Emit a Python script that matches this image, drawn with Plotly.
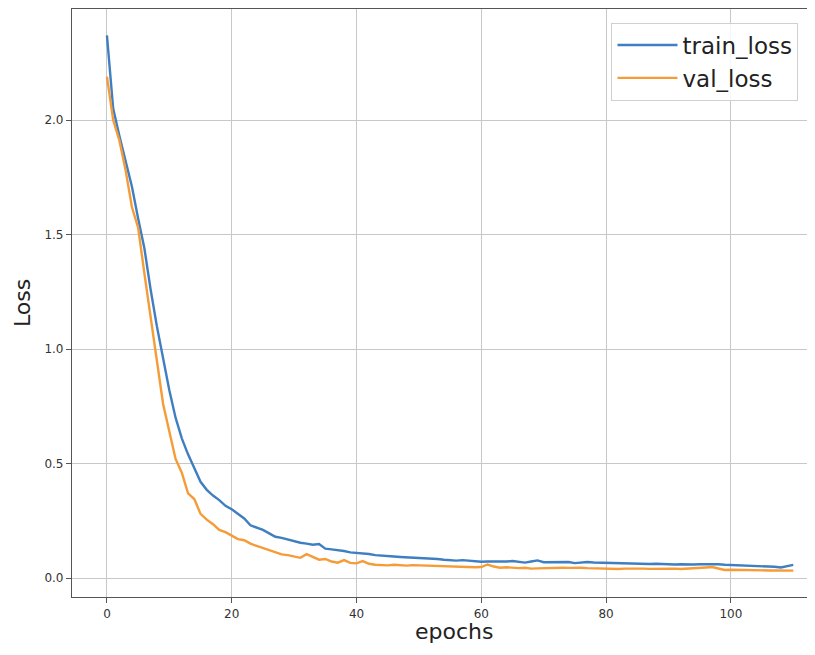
import plotly.graph_objects as go

epochs = list(range(111))

train_loss = [
    2.37, 2.05, 1.93, 1.82, 1.71, 1.57, 1.44, 1.26, 1.10, 0.96,
    0.82, 0.70, 0.61, 0.54, 0.48, 0.42, 0.385, 0.36, 0.34, 0.315,
    0.30, 0.28, 0.26, 0.23, 0.22, 0.21, 0.195, 0.18, 0.175, 0.168,
    0.16, 0.154, 0.15, 0.145, 0.148, 0.128, 0.125, 0.122, 0.118, 0.112,
    0.11, 0.108, 0.105, 0.10, 0.097, 0.096, 0.094, 0.092, 0.091, 0.089,
    0.088, 0.087, 0.086, 0.083, 0.08, 0.078, 0.076, 0.078, 0.075, 0.072,
    0.071, 0.072, 0.071, 0.073, 0.072, 0.074, 0.07, 0.067, 0.072, 0.077,
    0.069, 0.07, 0.071, 0.071, 0.07, 0.065, 0.067, 0.07, 0.068, 0.067,
    0.065, 0.064, 0.063, 0.065, 0.064, 0.063, 0.062, 0.061, 0.062, 0.06,
    0.058, 0.059, 0.06, 0.058, 0.059, 0.06, 0.061, 0.062, 0.06, 0.058,
    0.057, 0.056, 0.054, 0.055, 0.052, 0.051, 0.05, 0.049, 0.046, 0.052,
    0.057,
]

val_loss = [
    2.19, 2.00, 1.91, 1.78, 1.62, 1.53, 1.33, 1.15, 0.95, 0.76,
    0.64, 0.52, 0.46, 0.37, 0.345, 0.28, 0.255, 0.235, 0.21, 0.20,
    0.185, 0.17, 0.165, 0.15, 0.14, 0.13, 0.12, 0.112, 0.103, 0.10,
    0.095, 0.088, 0.104, 0.092, 0.08, 0.083, 0.072, 0.067, 0.078, 0.066,
    0.064, 0.074, 0.062, 0.058, 0.056, 0.055, 0.058, 0.056, 0.054, 0.056,
    0.055, 0.052, 0.053, 0.05, 0.051, 0.049, 0.049, 0.048, 0.047, 0.047,
    0.048, 0.059, 0.05, 0.045, 0.047, 0.044, 0.043, 0.045, 0.041, 0.042,
    0.043, 0.045, 0.046, 0.045, 0.044, 0.046, 0.045, 0.043, 0.042, 0.044,
    0.043, 0.04, 0.039, 0.041, 0.042, 0.042, 0.041, 0.04, 0.041, 0.04,
    0.04, 0.041, 0.039, 0.04, 0.041, 0.042, 0.046, 0.048, 0.04, 0.035,
    0.036, 0.035, 0.036, 0.035, 0.034, 0.034, 0.033, 0.033, 0.032, 0.033,
    0.032,
]

x_ticks = [0, 20, 40, 60, 80, 100]
y_ticks = [0.0, 0.5, 1.0, 1.5, 2.0]

fig = go.Figure()
fig.add_trace(go.Scatter(x=epochs, y=train_loss, mode="lines", name="train_loss",
                         line=dict(color="#3f7fc1", width=2.4)))
fig.add_trace(go.Scatter(x=epochs, y=val_loss, mode="lines", name="val_loss",
                         line=dict(color="#f59c38", width=2.4)))

axis_common = dict(
    showgrid=True, gridcolor="#c8c8c8", gridwidth=1,
    showline=True, linecolor="#555555", linewidth=1.2, mirror=True,
    ticks="outside", ticklen=5, tickcolor="#555555",
    tickfont=dict(family="DejaVu Sans", size=12, color="#333333"),
    zeroline=False, automargin=False,
)

fig.update_layout(
    width=799, height=639,
    margin=dict(l=64, r=0, t=1, b=50, autoexpand=False),
    paper_bgcolor="white", plot_bgcolor="white",
    font=dict(family="DejaVu Sans", color="#222222"),
    xaxis=dict(range=[-5.6, 112.2], tickvals=x_ticks, **axis_common),
    yaxis=dict(range=[-0.083, 2.485], tickvals=y_ticks, tickformat=".1f", **axis_common),
    legend=dict(x=0.734, y=0.977, xanchor="left", yanchor="top",
                bgcolor="rgba(255,255,255,0.85)", bordercolor="#d0d0d0", borderwidth=1,
                font=dict(family="DejaVu Sans", size=23, color="#222222"),
                itemwidth=60, tracegroupgap=2),
    showlegend=True,
    annotations=[
        dict(text="epochs", xref="paper", yref="paper", x=0.52, y=-0.058,
             xanchor="center", yanchor="middle", showarrow=False,
             font=dict(family="DejaVu Sans", size=22, color="#222222")),
        dict(text="Loss", xref="paper", yref="paper", x=-0.068, y=0.5,
             xanchor="center", yanchor="middle", showarrow=False, textangle=-90,
             font=dict(family="DejaVu Sans", size=22, color="#222222")),
    ],
)

fig.write_html("out.html")
